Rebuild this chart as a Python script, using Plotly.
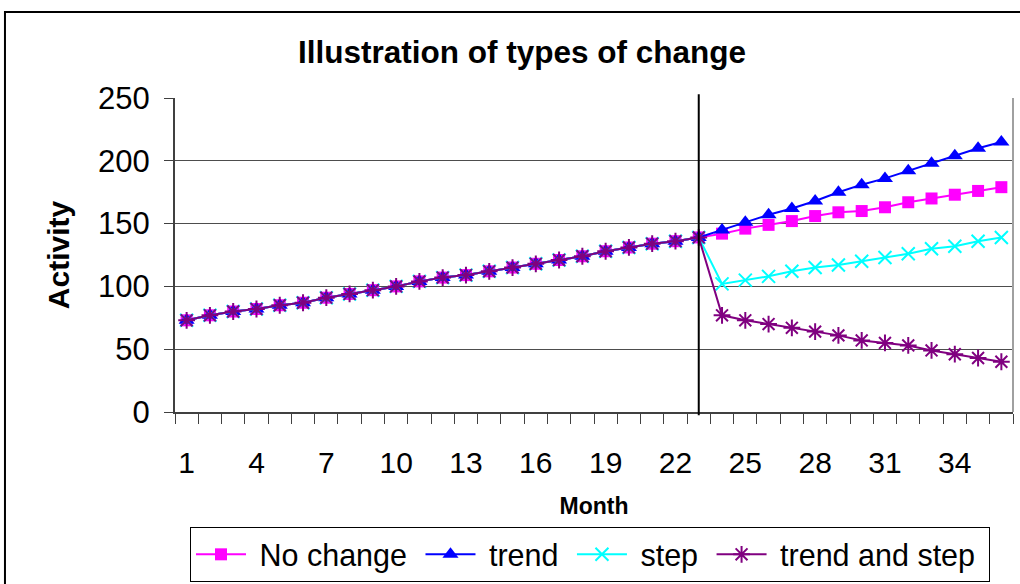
import plotly.graph_objects as go

# Month index and the month where the change starts
months = list(range(1, 37))
change_month = 23
tick_months = [1, 4, 7, 10, 13, 16, 19, 22, 25, 28, 31, 34]

# Activity series (identical up to the change month)
no_change = [73, 77, 80, 82, 85, 87, 91, 94, 97, 100, 104, 107, 109, 112, 115, 118,
             121, 124, 128, 131, 134, 136, 139,
             142, 146, 149, 152, 156, 159, 160, 163, 167, 170, 173, 176, 179]
trend = [73, 77, 80, 82, 85, 87, 91, 94, 97, 100, 104, 107, 109, 112, 115, 118,
         121, 124, 128, 131, 134, 136, 139,
         145, 151, 157, 162, 168, 175, 181, 186, 192, 198, 204, 210, 215]
step = [73, 77, 80, 82, 85, 87, 91, 94, 97, 100, 104, 107, 109, 112, 115, 118,
        121, 124, 128, 131, 134, 136, 139,
        102, 105, 108, 112, 115, 117, 120, 123, 126, 130, 132, 136, 139]
trend_and_step = [73, 77, 80, 82, 85, 87, 91, 94, 97, 100, 104, 107, 109, 112, 115, 118,
                  121, 124, 128, 131, 134, 136, 139,
                  77, 73, 70, 67, 64, 61, 57, 55, 53, 49, 46, 43, 40]

series_names = ["No change", "trend", "step", "trend and step"]

FONT = "Liberation Sans, Arial, sans-serif"
AXIS_COLOR = "#404040"
NBSP = "\u00a0"


def legend_label(name):
    # pad the label so legend entries are spaced out a little more
    return NBSP + name + NBSP


fig = go.Figure()

fig.add_trace(go.Scatter(
    x=months, y=no_change, name=legend_label(series_names[0]), mode="lines+markers",
    line=dict(color="#FF00FF", width=2),
    marker=dict(symbol="square", size=12, color="#FF00FF"),
))
fig.add_trace(go.Scatter(
    x=months, y=trend, name=legend_label(series_names[1]), mode="lines+markers",
    line=dict(color="#0000FF", width=2),
    marker=dict(symbol="triangle-up", size=14, color="#0000FF"),
))
fig.add_trace(go.Scatter(
    x=months, y=step, name=legend_label(series_names[2]), mode="lines+markers",
    line=dict(color="#00FFFF", width=2),
    marker=dict(symbol="x-thin", size=13, color="#00FFFF",
                line=dict(color="#00FFFF", width=2)),
))
fig.add_trace(go.Scatter(
    x=months, y=trend_and_step, name=legend_label(series_names[3]), mode="lines+markers",
    line=dict(color="#800080", width=2),
    marker=dict(symbol="asterisk", size=14, color="#800080",
                line=dict(color="#800080", width=2)),
))

# Outer chart frame, right plot border and the change-point marker line
fig.add_shape(type="rect", xref="paper", yref="paper",
              x0=-0.2029, x1=1.06, y0=-0.70, y1=1.274,
              line=dict(color="black", width=2), fillcolor="rgba(0,0,0,0)")
fig.add_shape(type="line", xref="paper", yref="paper",
              x0=1, x1=1, y0=0, y1=1,
              line=dict(color="#a0a0a0", width=2))
fig.add_shape(type="line", xref="x", yref="paper",
              x0=change_month, x1=change_month, y0=-0.01, y1=1.012,
              line=dict(color="black", width=2))

fig.update_layout(
    width=1020, height=584, autosize=False,
    margin=dict(l=175, r=7, t=98, b=172, autoexpand=False),
    paper_bgcolor="white", plot_bgcolor="white",
    font=dict(family=FONT, color="black"),
    title=dict(text="<b>Illustration of types of change</b>",
               x=522 / 1020, xref="container", xanchor="center",
               y=1 - 52 / 584, yref="container", yanchor="middle",
               font=dict(size=31.5, family=FONT, color="black")),
    xaxis=dict(
        range=[0.5, 36.5], tickmode="array", tickvals=tick_months,
        ticktext=[str(m) for m in tick_months], ticks="",
        tickfont=dict(size=30, family=FONT), ticklabelstandoff=23,
        showline=True, linecolor=AXIS_COLOR, linewidth=2,
        showgrid=False, zeroline=False, automargin=False,
        minor=dict(tickmode="array",
                   tickvals=[m + 0.5 for m in range(0, 37)],
                   ticks="outside", ticklen=10, tickwidth=1,
                   tickcolor=AXIS_COLOR, showgrid=False),
        title=dict(text="<b>Month</b>", font=dict(size=23, family=FONT),
                   standoff=20),
    ),
    yaxis=dict(
        range=[0, 250], tickmode="linear", tick0=0, dtick=50,
        ticks="outside", ticklen=9, tickwidth=1, tickcolor=AXIS_COLOR,
        tickfont=dict(size=31, family=FONT), ticklabelstandoff=8,
        showline=True, linecolor=AXIS_COLOR, linewidth=2,
        showgrid=True, gridcolor="#4d4d4d", gridwidth=1, zeroline=False,
        automargin=False,
        title=dict(text="<b>Activity</b>", font=dict(size=30, family=FONT),
                   standoff=20),
    ),
    legend=dict(
        orientation="h", x=(190 - 175) / 838, xanchor="left",
        y=(412 - 527) / 314, yanchor="top",
        bgcolor="white", bordercolor="black", borderwidth=1,
        font=dict(size=30.5, family=FONT), itemwidth=50,
    ),
)

fig.write_html("out.html")
